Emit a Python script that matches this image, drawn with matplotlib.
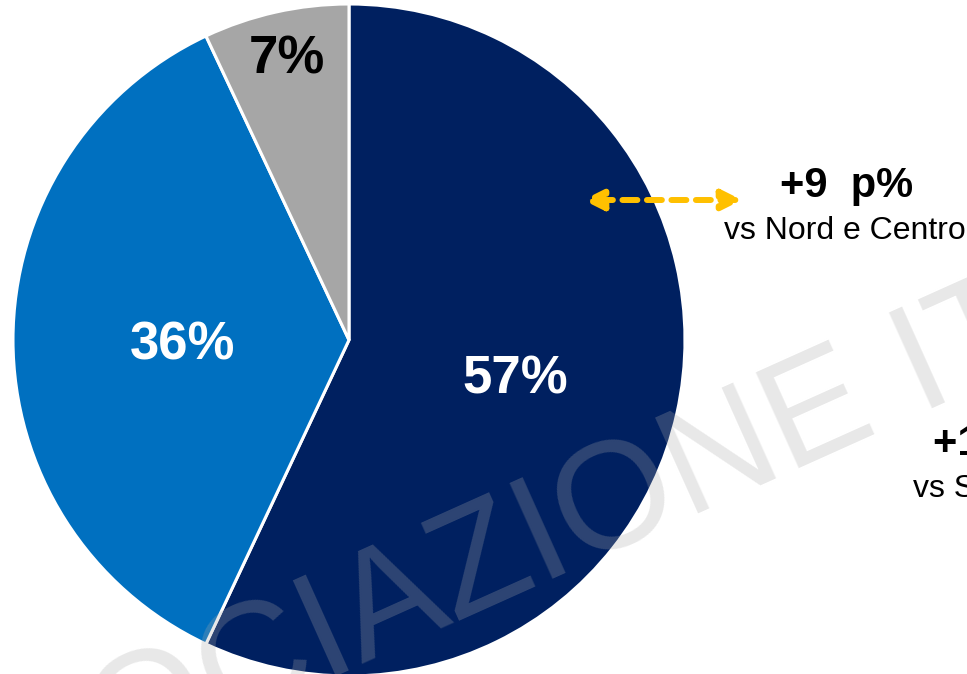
import matplotlib.pyplot as plt
import numpy as np

plt.rcParams['font.family'] = ['Liberation Sans', 'DejaVu Sans']

# data
shares = [57, 36, 7]
labels = ['57%', '36%', '7%']
colors = ['#002060', '#0070C0', '#A6A6A6']
label_colors = ['white', 'white', 'black']

W, H = 967, 674
fig = plt.figure(figsize=(W / 100, H / 100), dpi=100)
ax = fig.add_axes([0, 0, 1, 1])

# pie in pixel coordinates (y up)
cx, cy, r = 349, H - 340, 336
wedges, _ = ax.pie(shares, colors=colors, startangle=90, counterclock=False,
                   center=(cx, cy), radius=r,
                   wedgeprops=dict(edgecolor='white', linewidth=2.2))
ax.set_xlim(0, W)
ax.set_ylim(0, H)
ax.set_aspect('equal')
ax.axis('off')

# percentage labels
label_pos = [(515, 380), (183, 345), (287, 60)]
for txt, (x, y), c in zip(labels, label_pos, label_colors):
    ax.text(x, H - y, txt, color=c, fontsize=38, fontweight='bold',
            ha='center', va='center')

# watermark
ax.text(-180, H - 866, 'ASSOCIAZIONE ITALIANA', fontsize=110, color='#A9A9A9',
        alpha=0.27, rotation=24.2, rotation_mode='anchor', ha='left', va='center',
        zorder=5)

# yellow dashed double arrow
ax.annotate('', xy=(583, H - 200), xytext=(742, H - 200),
            arrowprops=dict(arrowstyle='<|-|>', color='#FFC000', lw=4.3,
                            linestyle=(0, (2.5, 1.6)), mutation_scale=30,
                            shrinkA=0, shrinkB=0), zorder=6)

# annotations
ax.text(847, H - 197, '+9  p%', fontsize=30, fontweight='bold', ha='center',
        va='baseline', zorder=7)
ax.text(724, H - 239, 'vs Nord e Centro', fontsize=23, ha='left',
        va='baseline', zorder=7)
ax.text(933, H - 455, '+11 p%', fontsize=30, fontweight='bold', ha='left',
        va='baseline', zorder=7)
ax.text(913, H - 497, 'vs Sud e Isole', fontsize=23, ha='left',
        va='baseline', zorder=7)

fig.savefig('out.png', dpi=100)
